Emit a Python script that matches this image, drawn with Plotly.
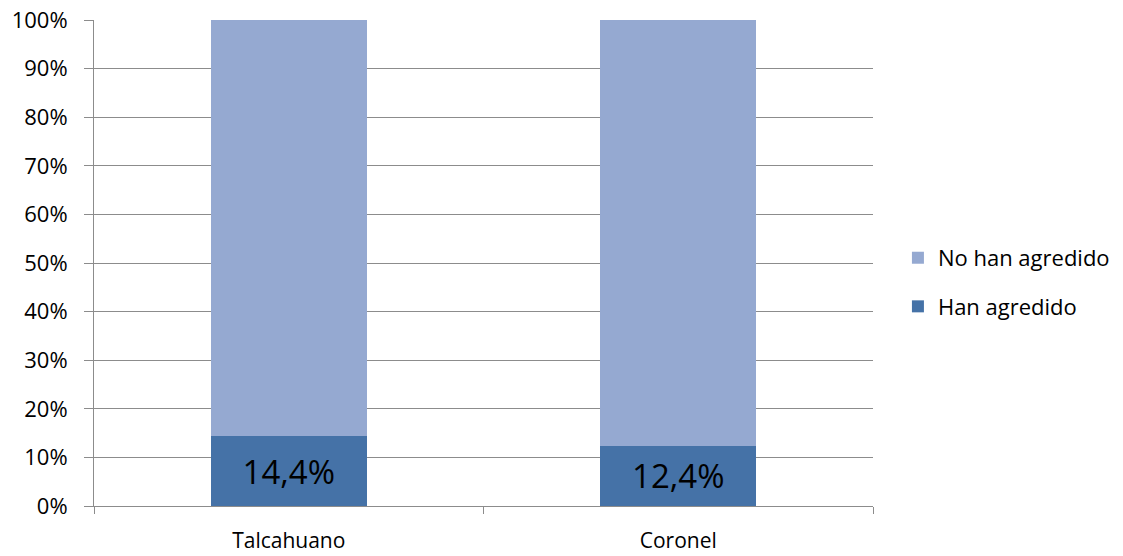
import plotly.graph_objects as go

# Chart data
categories = ["Talcahuano", "Coronel"]
han_agredido = [0.144, 0.124]
no_han_agredido = [0.856, 0.876]
y_ticks = [0, 0.1, 0.2, 0.3, 0.4, 0.5, 0.6, 0.7, 0.8, 0.9, 1.0]

FONT = "Open Sans"
GRID = "#8c8c8c"

fig = go.Figure()
fig.add_trace(go.Bar(
    x=categories, y=han_agredido, name="Han agredido",
    marker=dict(color="#4572A7", line=dict(width=0)),
    texttemplate="%{y:.1%}", textposition="inside",
    insidetextanchor="middle",
    textfont=dict(family=FONT, size=33, color="#000000"),
    legendgroup="a", legendrank=2, hoverinfo="skip",
))
fig.add_trace(go.Bar(
    x=categories, y=no_han_agredido, name="No han agredido",
    marker=dict(color="#95A9D1", line=dict(width=0)),
    legendgroup="b", legendrank=1, hoverinfo="skip",
))

fig.update_layout(
    width=1123, height=556,
    barmode="stack", bargap=0.6,
    separators=",.",
    paper_bgcolor="white", plot_bgcolor="white",
    margin=dict(l=94, r=250, t=20, b=50, autoexpand=False),
    font=dict(family=FONT, size=21, color="#000000"),
    legend=dict(
        x=1.032, xanchor="left", y=0.46, yanchor="middle",
        traceorder="grouped", tracegroupgap=17,
        font=dict(family=FONT, size=22, color="#000000"),
        itemwidth=30,
    ),
    showlegend=True,
)
fig.update_xaxes(
    showline=True, linecolor=GRID, linewidth=1,
    ticks="outside", tickson="boundaries", ticklen=7, tickcolor=GRID,
    showgrid=False, tickfont=dict(family=FONT, size=21),
    ticklabelstandoff=16,
)
fig.update_yaxes(
    range=[0, 1], tickvals=y_ticks, tickformat=".0%",
    showline=True, linecolor=GRID, linewidth=1,
    showgrid=True, gridcolor=GRID, gridwidth=1,
    ticks="outside", ticklen=9, tickcolor=GRID,
    tickfont=dict(family=FONT, size=22),
    ticklabelstandoff=12,
    zeroline=False,
)

fig.write_html("out.html")
